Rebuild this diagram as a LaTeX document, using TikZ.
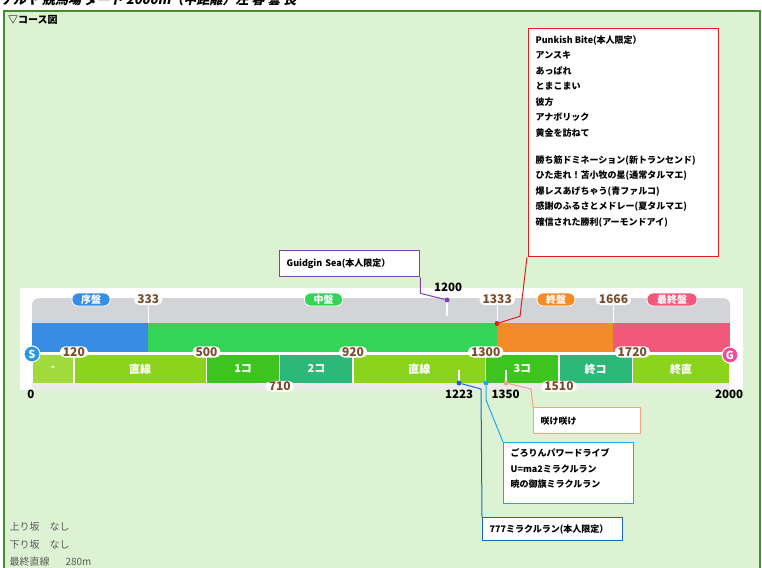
\documentclass[tikz,border=0pt]{standalone}
\usepackage{fontspec}
\setmainfont{Noto Sans CJK JP}
\newfontfamily\titlefont[FakeSlant=0.2]{Noto Sans CJK JP}

\definecolor{panelbg}{RGB}{221,242,210}
\definecolor{panelline}{RGB}{72,140,48}
\definecolor{barbase}{RGB}{210,212,216}
\definecolor{phblue}{RGB}{56,140,226}
\definecolor{phgreen}{RGB}{52,212,88}
\definecolor{phorange}{RGB}{242,140,40}
\definecolor{phpink}{RGB}{242,88,122}
\definecolor{stlight}{RGB}{160,218,60}
\definecolor{ststraight}{RGB}{140,212,28}
\definecolor{stcorner}{RGB}{62,196,30}
\definecolor{stteal}{RGB}{44,184,120}
\definecolor{pillbrown}{RGB}{122,76,44}
\definecolor{sblue}{RGB}{40,150,230}
\definecolor{gpink}{RGB}{232,80,154}
\definecolor{skred}{RGB}{226,30,30}
\definecolor{skpurple}{RGB}{128,64,176}
\definecolor{skorange}{RGB}{242,164,130}
\definecolor{skcyan}{RGB}{30,170,232}
\definecolor{skblue}{RGB}{24,104,200}
\definecolor{notegray}{RGB}{90,90,90}

\newcommand{\posx}[1]{32+#1*0.349}

\begin{document}
\begin{tikzpicture}[x=1pt,y=-1pt,
  pill/.style={fill=white,rounded corners=5pt,inner xsep=3pt,inner ysep=1pt,text=pillbrown,font=\bfseries\fontsize{12}{12}\selectfont},
  badge/.style={fill=#1,draw=white,line width=0.8pt,rounded corners=6pt,text=white,font=\bfseries\fontsize{10}{10}\selectfont,minimum width=38pt,minimum height=13pt,inner sep=0pt},
  sect/.style={text=white,font=\bfseries\fontsize{11}{11}\selectfont},
  goal/.style={circle,fill=#1,draw=white,line width=1pt,minimum size=16pt,inner sep=0pt,text=white,font=\bfseries\fontsize{11}{11}\selectfont},
  skillbox/.style={draw=#1,fill=white,line width=1.3pt,anchor=north west,align=left,inner xsep=7pt,inner ysep=0pt,font=\bfseries\fontsize{9}{15.5}\selectfont},
  dot/.style={circle,fill=#1,inner sep=0pt,minimum size=5pt},
  km/.style={font=\bfseries\fontsize{11.5}{11.5}\selectfont},
  note/.style={anchor=west,text=notegray,font=\fontsize{10}{10}\selectfont}]
\useasboundingbox (0,0) rectangle (762,567);

%Panel and headings
\draw[fill=panelbg,draw=panelline,line width=2.8pt] (4,11) rectangle (760,600);
\node[anchor=base west,inner sep=0pt,font=\titlefont\bfseries\fontsize{13}{13}\selectfont] (title) at (0,5) {ケルヤ 競馬場 ダート 2000m（中距離）左 春 曇 良};
\node[anchor=west,inner sep=0pt,font=\bfseries\fontsize{10}{10}\selectfont] (course) at (8,20) {▽コース図};

%Course strip
\fill[white] (20,288) rectangle (743,390);
\fill[barbase,rounded corners=7pt] ({\posx{0}},298) rectangle ({\posx{2000}},340);
\fill[black!8] ({\posx{0}},383) rectangle ({\posx{2000}},390);

%Phases
\foreach \a/\b/\c in {0/333/phblue,333/1333/phgreen,1333/1666/phorange,1666/2000/phpink}
  \fill[\c] ({\posx{\a}},323) rectangle ({\posx{\b}},352);
\foreach \d in {333,1333,1666}
  \draw[white,line width=1pt] ({\posx{\d}},305) -- ({\posx{\d}},323);

%Sections
\foreach \a/\b/\c/\lab in {0/120/stlight/-,120/500/ststraight/直線,500/710/stcorner/1コ,710/920/stteal/2コ,920/1300/ststraight/直線,1300/1510/stcorner/3コ,1510/1720/stteal/終コ,1720/2000/ststraight/終直}{
  \fill[\c] ({\posx{\a}+0.7},355) rectangle ({\posx{\b}-0.7},383);
  \node[sect] (sec\a) at ({(\posx{\a}+\posx{\b})/2},369) {\lab};
}

%Ticks
\draw[white,line width=1.2pt] (447,300) -- (447,316);
\draw[white,line width=1.2pt] (459,370) -- (459,381);
\draw[white,line width=1.2pt] (506,370) -- (506,381);

%Phase badges
\node[badge=phblue] (early) at (91,299.5) {序盤};
\node[badge=phgreen] (middle) at (323.5,299.5) {中盤};
\node[badge=phorange] (late) at (556,299.5) {終盤};
\node[badge=phpink,minimum width=50pt] (last) at (672,299.5) {最終盤};

%Distance pills
\foreach \d in {333,1333,1666}
  \node[pill] (p\d) at ({\posx{\d}},299.5) {\d};
\foreach \d in {120,500,920,1300,1720}
  \node[pill] (s\d) at ({\posx{\d}},352) {\d};
\foreach \d in {710,1510}
  \node[pill] (s\d) at ({\posx{\d}},386.5) {\d};

\node[goal=sblue] (start) at (32,354) {S};
\node[goal=gpink] (finish) at (730,355) {G};

%Distances
\node[km] (k0) at (31,394) {0};
\node[km] (k1200) at (448,287.5) {1200};
\node[km] (k1223) at (459,394) {1223};
\node[km] (k1350) at (505.5,394) {1350};
\node[km] (k2000) at (729,394) {2000};

%Skill markers
\node[dot=skpurple] (m1200) at (447,300) {};
\node[dot=skred] (m1333) at (497,323.5) {};
\node[dot=skblue] (m1223) at (459,383) {};
\node[dot=skcyan] (m1300) at (486,383) {};
\node[dot=skorange] (m1350) at (506,383) {};

%Skill boxes
\node[skillbox=skred,inner ysep=7pt] (punkish) at (528,28) {\parbox[c][214pt][t]{176pt}{%
Punkish Bite(本人限定）\\
アンスキ\\
あっぱれ\\
とまこまい\\
彼方\\
アナボリック\\
黄金を訪ねて\\[11.5pt]
勝ち筋ドミネーション(新トランセンド)\\
ひた走れ！苫小牧の星(通常タルマエ)\\
爆レスあげちゃう(青ファルコ)\\
感謝のふるさとメドレー(夏タルマエ)\\
確信された勝利(アーモンドアイ)}};
\node[skillbox=skpurple,text width=126pt,minimum height=26pt] (guidgin) at (279,250) {Guidgin Sea(本人限定）};
\node[skillbox=skorange,text width=93pt,minimum height=26pt] (sakesake) at (533,407) {咲け咲け};
\node[skillbox=skcyan,inner ysep=6pt] (gorori) at (503,442) {\parbox[c][49pt][t]{116pt}{%
ごろりんパワードライブ\\
U=ma2ミラクルラン\\
暁の御旗ミラクルラン}};
\node[skillbox=skblue,text width=126pt,minimum height=23pt] (miracle) at (482,517) {777ミラクルラン(本人限定）};

%Leaders
\draw[skpurple,line width=1pt] (guidgin.south east) -- ++(0,16) -- (m1200);
\draw[skred,line width=1pt] ([xshift=-1pt]punkish.south west) -- ++(-7,59) -- (m1333);
\draw[skorange,line width=1pt] (m1350) -- ++(25,6) -- (sakesake.north west);
\draw[skcyan,line width=1pt] (m1300) -- ++(0,17) -- (gorori.north west);
\draw[skblue,line width=1pt] (m1223) -- ++(22,6) -- (miracle.north west);

%Notes
\node[note] (uphill) at (6,527) {上り坂　なし};
\node[note] (downhill) at (6,545) {下り坂　なし};
\node[note] (straight) at (6,562) {最終直線\hspace{1.6em}280m};
\end{tikzpicture}
\end{document}
